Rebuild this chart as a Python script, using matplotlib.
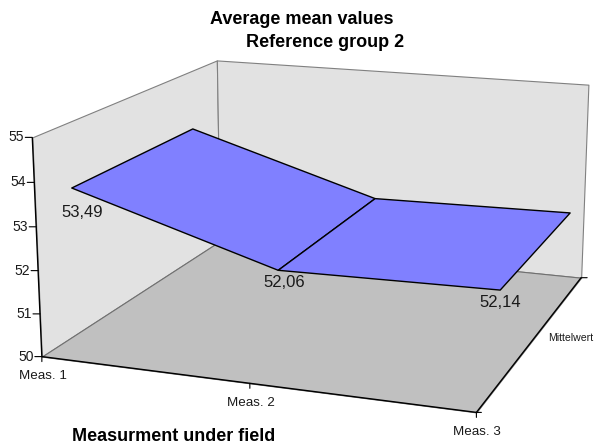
import matplotlib
matplotlib.use("Agg")
import matplotlib.pyplot as plt
from mpl_toolkits.mplot3d import proj3d
from mpl_toolkits.mplot3d.art3d import Poly3DCollection

plt.rcParams["font.family"] = ["Liberation Sans", "DejaVu Sans"]

categories = ["Meas. 1", "Meas. 2", "Meas. 3"]
values = [53.49, 52.06, 52.14]
value_labels = ["53,49", "52,06", "52,14"]
z_ticks = [50, 51, 52, 53, 54, 55]
series_name = "Mittelwert"

W, H = 594, 448
fig = plt.figure(figsize=(W / 100, H / 100), dpi=100)

# square axes so the fitted camera lands where the reference has it
S = 619.6
ax = fig.add_axes([11.48 / W, (H - 531.57) / H, S / W, S / H], projection="3d", computed_zorder=False)
ax.set_axis_off()
ax.set_xlim(0, 2)
ax.set_ylim(0, 1)
ax.set_zlim(50, 55)
ax.view_init(14.961, -70.091)
ax.set_proj_type("persp", focal_length=0.5387)
ax.set_box_aspect((1, 1.0004, 0.4993))
M = ax.get_proj()

inset = 0.1664
grey_edge = "#808080"


def poly(verts, face, edge, lw=0.8):
    ax.add_collection3d(Poly3DCollection([verts], facecolors=face, edgecolors=edge, linewidths=lw))


def line(x, y, z, color="black", lw=1.0):
    ax.plot(x, y, z, color=color, lw=lw, solid_capstyle="butt")


def note(x, y, z, text, dx, dy, **kw):
    X, Y, _ = proj3d.proj_transform(x, y, z, M)
    ax.annotate(text, xy=(X, Y), xytext=(dx, -dy), textcoords="offset pixels",
                annotation_clip=False, ha=kw.pop("ha", "center"), va="center",
                color="#1a1a1a", **kw)


def tick(x, y, z, dx, dy):
    X, Y, _ = proj3d.proj_transform(x, y, z, M)
    ax.annotate("", xy=(X, Y), xytext=(dx, -dy), textcoords="offset pixels", annotation_clip=False,
                arrowprops=dict(arrowstyle="-", color="black", lw=0.8, shrinkA=0, shrinkB=0))


# walls and floor
poly([(0, 0, 50), (0, 1, 50), (0, 1, 55), (0, 0, 55)], "#e2e2e2", grey_edge)
poly([(0, 1, 50), (2, 1, 50), (2, 1, 55), (0, 1, 55)], "#e2e2e2", grey_edge)
poly([(0, 0, 50), (2, 0, 50), (2, 1, 50), (0, 1, 50)], "#c0c0c0", "#707070")

# axis lines
line([0, 2], [0, 0], [50, 50])
line([2, 2], [0, 1], [50, 50])
line([0, 0], [0, 0], [50, 55])

# ribbon
for i in range(len(values) - 1):
    poly([(i, inset, values[i]), (i + 1, inset, values[i + 1]),
          (i + 1, 1 - inset, values[i + 1]), (i, 1 - inset, values[i])],
         "#8080ff", "black", 1.0)

# ticks and labels
for z in z_ticks:
    tick(0, 0, z, -7, 0)
    note(0, 0, z, str(z), -8, 0, ha="right", fontsize=10)
for i, cat in enumerate(categories):
    tick(i, 0, 50, 0, 5)
    note(i, 0, 50, cat, 1, 19.5, fontsize=9.6)
tick(2, 0, 50, 5, 0)
tick(2, 1, 50, 6, 0)
note(2, 0.5, 50, series_name, 14, 0, ha="left", fontsize=7.6)

# value labels
label_offsets = [(11, 25), (6, 13), (0, 13)]
for i, text in enumerate(value_labels):
    dx, dy = label_offsets[i]
    note(i, inset, values[i], text, dx, dy, fontsize=12)

fig.text(302 / W, 1 - 19 / H, "Average mean values", ha="center", va="center", fontsize=13, fontweight="bold")
fig.text(325 / W, 1 - 42.5 / H, "Reference group 2", ha="center", va="center", fontsize=13, fontweight="bold")
fig.text(72 / W, 1 - 436 / H, "Measurment under field", ha="left", va="center", fontsize=13, fontweight="bold")

fig.savefig("out.png", dpi=100)
